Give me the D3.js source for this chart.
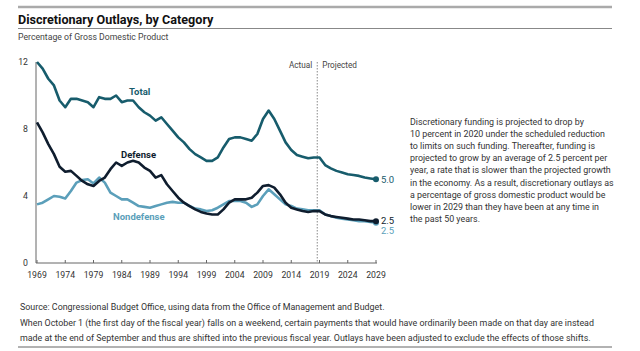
<!DOCTYPE html>
<html>
<head>
<meta charset="utf-8">
<script src="https://cdn.jsdelivr.net/npm/d3@7"></script>
<style>
  body { margin: 0; background: #fff; }
  svg { font-family: "Roboto", sans-serif; }
</style>
</head>
<body>
<svg width="640" height="351"></svg>
<script>
var years = d3.range(1969, 2030);
var total = [12.0, 11.6, 11.0, 10.6, 9.7, 9.3, 9.8, 9.8, 9.7, 9.6, 9.3, 9.9, 9.8, 9.8, 10.0, 9.6, 9.7, 9.7, 9.3, 9.0,
  8.8, 8.5, 8.7, 8.3, 7.9, 7.5, 7.2, 6.8, 6.5, 6.3, 6.1, 6.1, 6.3, 6.9, 7.4, 7.5, 7.5, 7.4, 7.3, 7.7,
  8.6, 9.1, 8.6, 7.9, 7.2, 6.75, 6.45, 6.35, 6.25, 6.3, 6.3, 5.85, 5.65, 5.5, 5.4, 5.3, 5.25, 5.2, 5.1, 5.05, 5.0];
var defense = [8.4, 7.8, 7.1, 6.5, 5.75, 5.45, 5.5, 5.2, 4.9, 4.7, 4.6, 4.9, 5.1, 5.6, 6.0, 5.8, 6.0, 6.1, 6.0, 5.7,
  5.5, 5.1, 5.25, 4.7, 4.3, 3.9, 3.6, 3.4, 3.2, 3.05, 2.95, 2.9, 2.9, 3.2, 3.6, 3.8, 3.8, 3.8, 3.9, 4.2,
  4.6, 4.65, 4.5, 4.1, 3.6, 3.3, 3.2, 3.1, 3.05, 3.1, 3.1, 2.9, 2.8, 2.75, 2.7, 2.65, 2.6, 2.6, 2.55, 2.5, 2.5];
var nondefense = [3.5, 3.6, 3.8, 4.0, 3.95, 3.85, 4.3, 4.8, 4.95, 5.0, 4.75, 5.1, 4.8, 4.2, 4.0, 3.8, 3.8, 3.6, 3.4, 3.35,
  3.3, 3.4, 3.5, 3.6, 3.65, 3.6, 3.6, 3.4, 3.25, 3.2, 3.1, 3.15, 3.3, 3.5, 3.7, 3.7, 3.7, 3.6, 3.35, 3.5,
  4.0, 4.4, 4.1, 3.8, 3.5, 3.4, 3.25, 3.2, 3.15, 3.15, 3.15, 2.9, 2.8, 2.7, 2.65, 2.6, 2.55, 2.5, 2.5, 2.45, 2.4];
var xTicks = d3.range(1969, 2030, 5);
var yTicks = [0, 4, 8, 12];

var svg = d3.select("svg");
var x = d3.scaleLinear().domain([1969, 2029]).range([37, 376]);
var y = d3.scaleLinear().domain([0, 12]).range([263, 62]);

// header rules and titles
svg.append("line").attr("x1", 18).attr("x2", 612).attr("y1", 7).attr("y2", 7)
  .attr("stroke", "#aaa").attr("stroke-width", 2.5);
svg.append("line").attr("x1", 18).attr("x2", 612).attr("y1", 28.5).attr("y2", 28.5)
  .attr("stroke", "#888").attr("stroke-width", 1);
svg.append("text").attr("x", 18).attr("y", 24).attr("font-size", 12.6).attr("font-weight", "bold")
  .attr("fill", "#111").text("Discretionary Outlays, by Category");
svg.append("text").attr("x", 18).attr("y", 40).attr("font-size", 8.7).attr("fill", "#444")
  .text("Percentage of Gross Domestic Product");

// axes
svg.append("line").attr("x1", 36).attr("x2", 36).attr("y1", y(12)).attr("y2", y(0))
  .attr("stroke", "#666").attr("stroke-width", 1);
svg.append("line").attr("x1", 36).attr("x2", 377).attr("y1", y(0)).attr("y2", y(0))
  .attr("stroke", "#666").attr("stroke-width", 1);
svg.selectAll(".xt").data(xTicks).enter().append("line")
  .attr("x1", d => x(d)).attr("x2", d => x(d)).attr("y1", y(0)).attr("y2", y(0) - 3)
  .attr("stroke", "#666");
svg.selectAll(".xl").data(xTicks).enter().append("text")
  .attr("x", d => x(d)).attr("y", 278).attr("text-anchor", "middle")
  .attr("font-size", 8.7).attr("fill", "#333").text(d => d);
svg.selectAll(".yl").data(yTicks).enter().append("text")
  .attr("x", 28).attr("y", d => y(d) + 3).attr("text-anchor", "end")
  .attr("font-size", 8.7).attr("fill", "#333").text(d => d);

// actual / projected divider
svg.append("line").attr("x1", x(2018.6)).attr("x2", x(2018.6)).attr("y1", y(12)).attr("y2", y(0))
  .attr("stroke", "#888").attr("stroke-width", 1).attr("stroke-dasharray", "1.5,1.5");
svg.append("text").attr("x", x(2018.6) - 5).attr("y", 68).attr("text-anchor", "end")
  .attr("font-size", 8.2).attr("fill", "#444").text("Actual");
svg.append("text").attr("x", x(2018.6) + 5).attr("y", 68)
  .attr("font-size", 8.2).attr("fill", "#444").text("Projected");

var series = [
  { name: "Nondefense", values: nondefense, color: "#5b9fba" },
  { name: "Defense", values: defense, color: "#0f1d2e" },
  { name: "Total", values: total, color: "#175c6c" }
];
var line = d3.line().x((d, i) => x(years[i])).y(d => y(d));
series.forEach(function(s) {
  svg.append("path").attr("d", line(s.values)).attr("fill", "none")
    .attr("stroke", s.color).attr("stroke-width", 2.6).attr("stroke-linejoin", "round");
  svg.append("circle").attr("cx", x(2029)).attr("cy", y(s.values[s.values.length - 1]))
    .attr("r", 3).attr("fill", s.color);
});

// line labels
svg.append("text").attr("x", 129).attr("y", 95).attr("font-size", 9.5).attr("font-weight", "bold")
  .attr("fill", "#175c6c").text("Total");
svg.append("text").attr("x", 138.5).attr("y", 158).attr("text-anchor", "middle").attr("font-size", 9.5)
  .attr("font-weight", "bold").attr("fill", "#0f1d2e").text("Defense");
svg.append("text").attr("x", 113).attr("y", 220).attr("font-size", 9.5).attr("font-weight", "bold")
  .attr("fill", "#5b9fba").text("Nondefense");

// end labels
svg.append("text").attr("x", 381).attr("y", y(5.0) + 3.5).attr("font-size", 9.5).attr("fill", "#175c6c").text("5.0");
svg.append("text").attr("x", 381).attr("y", y(2.5) + 3).attr("font-size", 9.5).attr("fill", "#0f1d2e").text("2.5");
svg.append("text").attr("x", 381).attr("y", y(2.5) + 13).attr("font-size", 9.5).attr("fill", "#5b9fba").text("2.5");

// side note
var note = [
  "Discretionary funding is projected to drop by",
  "10 percent in 2020 under the scheduled reduction",
  "to limits on such funding. Thereafter, funding is",
  "projected to grow by an average of 2.5 percent per",
  "year, a rate that is slower than the projected growth",
  "in the economy. As a result, discretionary outlays as",
  "a percentage of gross domestic product would be",
  "lower in 2029 than they have been at any time in",
  "the past 50 years."
];
svg.selectAll(".note").data(note).enter().append("text")
  .attr("x", 410).attr("y", (d, i) => 125 + i * 12.1)
  .attr("font-size", 8.9).attr("fill", "#333").text(d => d);

// footer
svg.append("text").attr("x", 20).attr("y", 310).attr("font-size", 8.9).attr("fill", "#333")
  .text("Source: Congressional Budget Office, using data from the Office of Management and Budget.");
svg.append("text").attr("x", 20).attr("y", 326).attr("font-size", 8.9).attr("fill", "#333")
  .text("When October 1 (the first day of the fiscal year) falls on a weekend, certain payments that would have ordinarily been made on that day are instead");
svg.append("text").attr("x", 20).attr("y", 340.5).attr("font-size", 8.9).attr("fill", "#333")
  .text("made at the end of September and thus are shifted into the previous fiscal year. Outlays have been adjusted to exclude the effects of those shifts.");
svg.append("line").attr("x1", 18).attr("x2", 612).attr("y1", 347).attr("y2", 347)
  .attr("stroke", "#999").attr("stroke-width", 1.5);
</script>
</body>
</html>
